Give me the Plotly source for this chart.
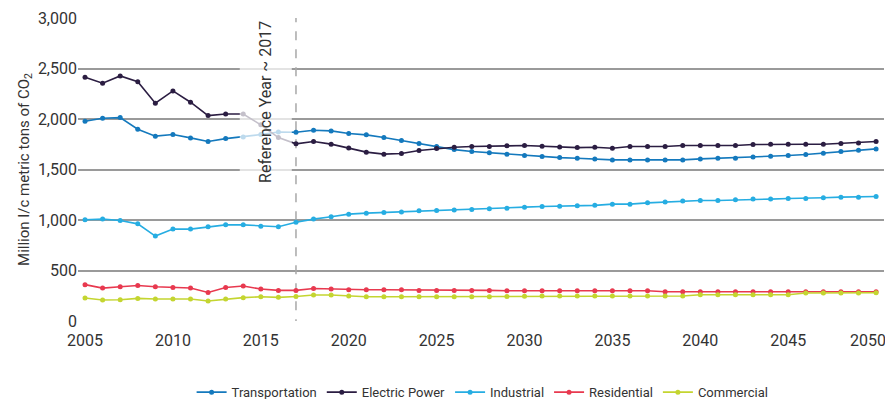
import plotly.graph_objects as go

years = list(range(2005, 2051))
x_ticks = list(range(2005, 2051, 5))
x_tick_text = [str(v) for v in x_ticks[:-1]] + [str(x_ticks[-1]) + "\u2003"]

transportation = [1978, 2008, 2014, 1899, 1830, 1846, 1813, 1777, 1806, 1823, 1846, 1872,
                  1869, 1889, 1882, 1856, 1843, 1816, 1786, 1757, 1727, 1697, 1678, 1665,
                  1652, 1638, 1628, 1618, 1612, 1604, 1595, 1595, 1595, 1595, 1595, 1605,
                  1612, 1612, 1625, 1632, 1638, 1648, 1661, 1678, 1691, 1704]
electric_power = [2413, 2354, 2426, 2370, 2156, 2278, 2166, 2034, 2050, 2050, 1942, 1816,
                  1754, 1777, 1751, 1714, 1672, 1652, 1658, 1688, 1708, 1721, 1727, 1727,
                  1734, 1737, 1731, 1724, 1717, 1720, 1711, 1727, 1727, 1727, 1737, 1737,
                  1737, 1737, 1747, 1750, 1750, 1750, 1750, 1757, 1763, 1777]
industrial = [1002, 1009, 995, 962, 841, 910, 910, 933, 952, 952, 939, 933,
              977, 1009, 1032, 1058, 1068, 1074, 1078, 1091, 1094, 1098, 1104, 1111,
              1117, 1127, 1134, 1137, 1140, 1145, 1157, 1157, 1170, 1177, 1187, 1193,
              1193, 1200, 1207, 1207, 1213, 1213, 1220, 1226, 1226, 1233]
residential = [360, 326, 339, 352, 339, 332, 326, 283, 332, 346, 316, 303,
               303, 322, 316, 310, 310, 310, 310, 303, 303, 303, 303, 303,
               300, 300, 300, 300, 300, 300, 300, 300, 300, 290, 290, 290,
               290, 290, 290, 290, 290, 290, 290, 290, 290, 290]
commercial = [227, 208, 211, 224, 218, 218, 218, 198, 218, 231, 240, 234,
              243, 257, 257, 247, 240, 240, 240, 240, 240, 240, 240, 240,
              243, 245, 247, 247, 247, 247, 247, 247, 247, 247, 247, 260,
              260, 260, 260, 260, 260, 277, 277, 277, 277, 280]

series = [
    ("Transportation", transportation, "#1479bd"),
    ("Electric Power", electric_power, "#2b1d42"),
    ("Industrial", industrial, "#26ade2"),
    ("Residential", residential, "#e8394f"),
    ("Commercial", commercial, "#c4d530"),
]

ref_year = 2017
ref_label = "Reference Year ~ 2017"

fig = go.Figure()

# reference line
fig.add_trace(go.Scatter(
    x=[ref_year, ref_year], y=[-250, 3020], mode="lines+markers",
    line=dict(color="#a8a8a8", width=1.5, dash="dash"),
    marker=dict(symbol=["circle", "diamond"], size=[0, 6], color="#a8a8a8"),
    showlegend=False, hoverinfo="skip", cliponaxis=False,
))

for name, vals, col in series:
    fig.add_trace(go.Scatter(
        x=years, y=vals, name=name, mode="lines+markers",
        line=dict(color=col, width=1.6),
        marker=dict(color=col, size=5, symbol="circle"),
    ))

fig.add_annotation(
    x=2015.3, y=2170, xref="x", yref="y", text=ref_label, textangle=-90,
    showarrow=False, font=dict(family="Roboto", size=16, color="#333333"),
    bgcolor="rgba(255,255,255,0.72)", borderpad=16,
)

# page body has an 8px default margin, so the figure is sized 8px smaller
fig.update_layout(
    width=885, height=391,
    margin=dict(l=70, r=9, t=10, b=78, autoexpand=False),
    paper_bgcolor="white", plot_bgcolor="white",
    font=dict(family="Roboto", color="#333333"),
    showlegend=True,
    legend=dict(orientation="h", x=0.502, xanchor="center", y=-0.235, yanchor="middle",
                font=dict(family="Roboto", size=13, color="#333333"),
                itemwidth=30, tracegroupgap=0),
    xaxis=dict(range=[2004.6, 2050.45], tickvals=x_ticks, ticktext=x_tick_text,
               showgrid=False, zeroline=False, showline=False, ticks="",
               ticklabelstandoff=8, ticklabeloverflow="allow",
               tickfont=dict(family="Roboto", size=16, color="#333333")),
    yaxis=dict(range=[0, 3000], tickvals=[0, 500, 1000, 1500, 2000, 2500, 3000],
               tickformat=",d", showgrid=True, gridcolor="#9a9a9a", gridwidth=1.5,
               zeroline=False, showline=False, ticks="",
               tickfont=dict(family="Roboto", size=16, color="#333333"),
               title=dict(text="Million I/c metric tons of CO<sub>2</sub>",
                          font=dict(family="Roboto", size=15, color="#333333"),
                          standoff=4)),
)

fig.write_html("out.html")
